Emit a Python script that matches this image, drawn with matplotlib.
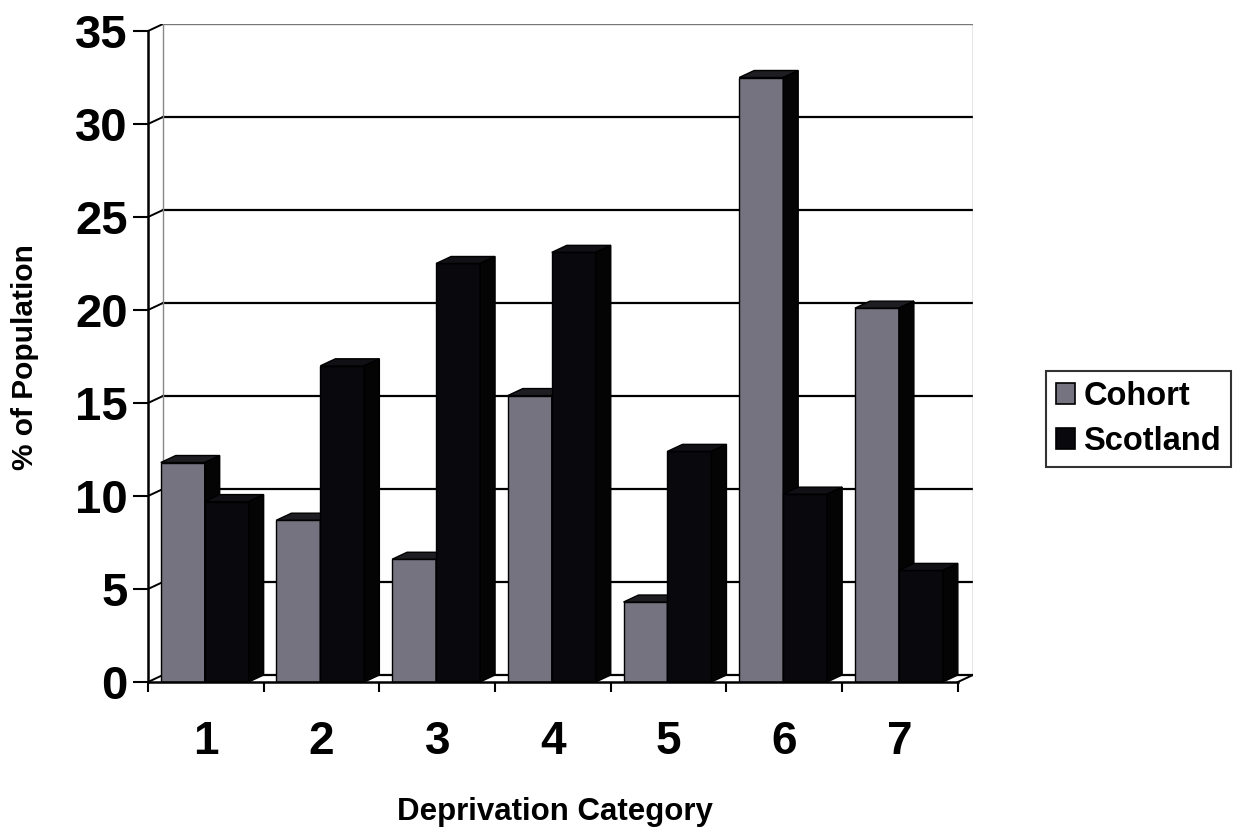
import matplotlib
matplotlib.use("Agg")
import matplotlib.pyplot as plt
from matplotlib.patches import Polygon, Rectangle, Patch

plt.rcParams['font.family'] = ['Liberation Sans', 'DejaVu Sans']
plt.rcParams['font.weight'] = 'bold'

# Data: share of population in each deprivation category (%)
categories = ['1', '2', '3', '4', '5', '6', '7']
cohort = [11.8, 8.7, 6.6, 15.4, 4.3, 32.5, 20.1]
scotland = [9.7, 17.0, 22.5, 23.1, 12.4, 10.1, 6.0]
series_names = ['Cohort', 'Scotland']
y_ticks = [0, 5, 10, 15, 20, 25, 30, 35]

# Layout (pixels)
W, H = 1235, 831
PX_CAT = 115.7      # pixels per category
PX_VAL = 18.6       # pixels per percentage point
X0_PX, Y0_PX = 148, 682
DX_PX, DY_PX = 15, 7  # depth offset of the 3-D walls

ddx = DX_PX / PX_CAT
ddy = DY_PX / PX_VAL
ymax = 35
ncat = len(categories)

fig = plt.figure(figsize=(W / 100, H / 100), dpi=100)
fig.patch.set_facecolor('white')
ax_w = (ncat + ddx) * PX_CAT
ax_h = (ymax + ddy) * PX_VAL
ax = fig.add_axes([X0_PX / W, (H - Y0_PX) / H, ax_w / W, ax_h / H])
ax.set_xlim(0.5, ncat + 0.5 + ddx)
ax.set_ylim(0, ymax + ddy)
ax.patch.set_alpha(0)

xl, xr = 0.5, ncat + 0.5

# Back wall gridlines and side-wall connectors
for v in y_ticks:
    col = '#777777' if v == ymax else 'black'
    lw = 1.0 if v == ymax else 1.6
    ax.plot([xl + ddx, xr + ddx], [v + ddy, v + ddy], color=col, lw=lw, zorder=1)
    ax.plot([xl, xl + ddx], [v, v + ddy], color='black', lw=1.4, zorder=1)
# wall edges
ax.plot([xl + ddx, xl + ddx], [ddy, ymax + ddy], color='#888888', lw=1.0, zorder=1)
ax.plot([xr + ddx, xr + ddx], [ddy, ymax + ddy], color='#888888', lw=1.0, zorder=1)
ax.plot([xr, xr + ddx], [0, ddy], color='black', lw=1.4, zorder=1)

# 3-D columns
BAR_OFF = 0.11
BAR_W = 0.38
face_cols = ['#74737f', '#08080d']
top_cols = ['#1e1d22', '#111015']
side_cols = ['#040404', '#040404']

z = 3
for i in range(ncat):
    for s, vals in enumerate([cohort, scotland]):
        v = vals[i]
        x0 = (i + 1) - 0.5 + BAR_OFF + s * BAR_W
        x1 = x0 + BAR_W
        ax.add_patch(Rectangle((x0, 0), BAR_W, v, facecolor=face_cols[s],
                               edgecolor='black', lw=1.0, zorder=z))
        ax.add_patch(Polygon([(x0, v), (x1, v), (x1 + ddx, v + ddy), (x0 + ddx, v + ddy)],
                             closed=True, facecolor=top_cols[s], edgecolor='black',
                             lw=1.0, zorder=z))
        ax.add_patch(Polygon([(x1, 0), (x1 + ddx, ddy), (x1 + ddx, v + ddy), (x1, v)],
                             closed=True, facecolor=side_cols[s], edgecolor='black',
                             lw=1.0, zorder=z))
        z += 1

# Axes
for sp in ['top', 'right']:
    ax.spines[sp].set_visible(False)
ax.spines['left'].set_bounds(0, ymax)
ax.spines['left'].set_linewidth(1.8)
ax.spines['bottom'].set_bounds(xl, xr)
ax.spines['bottom'].set_linewidth(1.8)
ax.spines['left'].set_zorder(50)
ax.spines['bottom'].set_zorder(50)

ax.set_yticks(y_ticks)
ax.set_yticklabels([str(t) for t in y_ticks], fontsize=34, fontweight='bold')
ax.tick_params(axis='y', direction='out', length=10.5, width=1.5, pad=4)

ax.set_xticks(range(1, ncat + 1))
ax.set_xticklabels(categories, fontsize=33, fontweight='bold')
ax.set_xticks([k + 0.5 for k in range(0, ncat + 1)], minor=True)
ax.tick_params(axis='x', which='major', length=0, pad=27)
ax.tick_params(axis='x', which='minor', direction='out', length=7.5, width=1.5)

fig.text(25 / W, 1 - 357 / H, '% of Population', rotation=90, ha='center', va='center',
         fontsize=21.5, fontweight='bold')
fig.text(555 / W, 1 - 812 / H, 'Deprivation Category', ha='center', va='center',
         fontsize=22.5, fontweight='bold')

handles = [Patch(facecolor=face_cols[0], edgecolor='black', lw=1.2),
           Patch(facecolor=face_cols[1], edgecolor='black', lw=1.2)]
leg = fig.legend(handles, series_names, loc='center left',
                 bbox_to_anchor=(1046 / W, 1 - 419 / H), frameon=True, fancybox=False,
                 prop={'size': 23.5, 'weight': 'bold'}, handlelength=0.6, handleheight=0.6,
                 handletextpad=0.25, labelspacing=0.45, borderpad=0.3, borderaxespad=0)
leg.get_frame().set_edgecolor('black')
leg.get_frame().set_linewidth(1.5)

fig.savefig('out.png', dpi=100, facecolor='white')
